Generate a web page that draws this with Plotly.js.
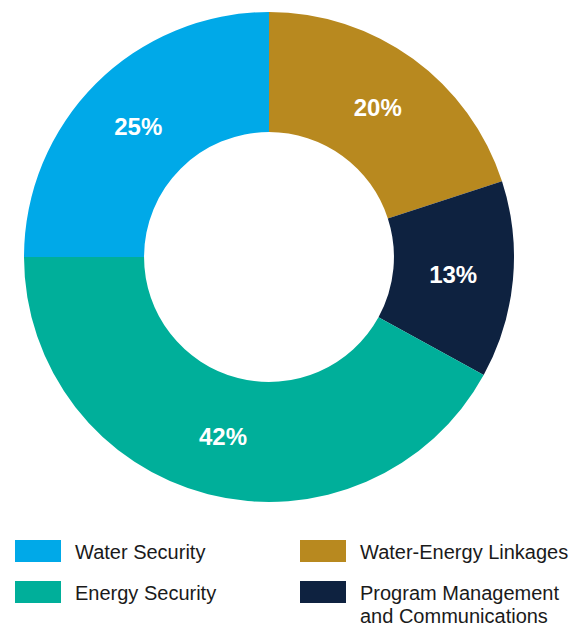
<!DOCTYPE html>
<html>
<head>
<meta charset="utf-8">
<script src="https://cdn.plot.ly/plotly-3.0.1.min.js"></script>
<style>
  html, body { margin: 0; padding: 0; background: #ffffff; }
  #chart { width: 570px; height: 627px; }
</style>
</head>
<body>
<div id="chart"></div>
<script>
// Slice order, clockwise from 12 o'clock
var categories = ["Water-Energy Linkages", "Program Management and Communications", "Energy Security", "Water Security"];
var values = [20, 13, 42, 25];
var colors = ["#B8891F", "#0E2240", "#00AF9A", "#00A9E8"];

// Legend order (left column then right column)
var legendLabels = ["Water Security", "Energy Security", "Water-Energy Linkages", "Program Management<br>and Communications"];
var legendColors = ["#00A9E8", "#00AF9A", "#B8891F", "#0E2240"];

var W = 570, H = 627;
function px(x) { return x / W; }
function py(y) { return 1 - y / H; }

var trace = {
  type: "pie",
  labels: categories,
  values: values,
  marker: { colors: colors, line: { width: 0 } },
  hole: 0.51,
  sort: false,
  direction: "clockwise",
  rotation: 0,
  texttemplate: "%{value}%",
  textposition: "inside",
  insidetextorientation: "horizontal",
  textfont: { family: "Liberation Sans, Arial, sans-serif", size: 24, color: "#ffffff", weight: "bold" },
  hoverinfo: "none",
  domain: { x: [px(24), px(514)], y: [py(502), py(12)] },
  showlegend: false
};

var shapes = [];
var annotations = [];
// legend layout: 2 columns x 2 rows
var colX = [15, 300];
var rowY = [551, 592];
legendLabels.forEach(function (lab, i) {
  var col = Math.floor(i / 2), row = i % 2;
  var x0 = colX[col], yc = rowY[row];
  shapes.push({
    type: "rect", xref: "paper", yref: "paper",
    x0: px(x0), x1: px(x0 + 46), y0: py(yc - 11), y1: py(yc + 11),
    fillcolor: legendColors[i], line: { width: 0 }
  });
  lab.split("<br>").forEach(function (line, j) {
    annotations.push({
      xref: "paper", yref: "paper",
      x: px(x0 + 58), y: py(yc + 1 + j * 23),
      xanchor: "left", yanchor: "middle",
      text: line, showarrow: false, align: "left",
      font: { family: "Liberation Sans, Arial, sans-serif", size: 20, color: "#1a1a1a" }
    });
  });
});

var layout = {
  width: W, height: H,
  margin: { l: 0, r: 0, t: 0, b: 0 },
  paper_bgcolor: "#ffffff",
  plot_bgcolor: "#ffffff",
  showlegend: false,
  shapes: shapes,
  annotations: annotations
};

Plotly.newPlot("chart", [trace], layout, { displayModeBar: false, staticPlot: true });
</script>
</body>
</html>
